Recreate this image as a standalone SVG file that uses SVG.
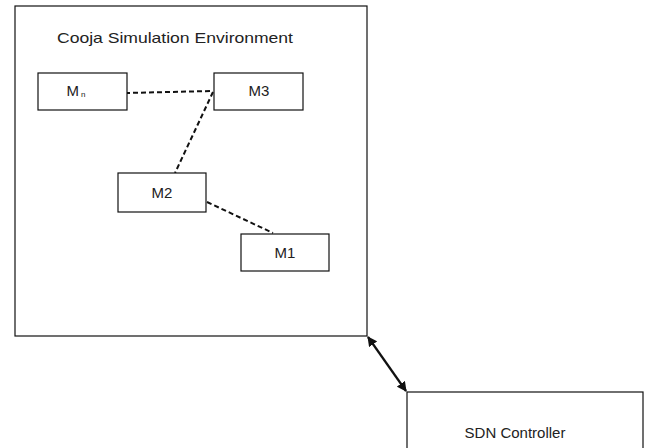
<svg xmlns="http://www.w3.org/2000/svg" width="647" height="448" viewBox="0 0 647 448">
<style>
.box{fill:#fff;stroke:#111;stroke-width:1.2}
.lbl{font-family:"Liberation Sans",Arial,sans-serif;font-size:15px;fill:#222;text-anchor:middle}
.dash{fill:none;stroke:#111;stroke-width:2;stroke-dasharray:5,3}
</style>
<defs>
<marker id="ah" viewBox="0 0 10 10" refX="9" refY="5" markerWidth="4.5" markerHeight="4.5" orient="auto-start-reverse" markerUnits="strokeWidth">
<path d="M0,0 L10,5 L0,10 z" fill="#111"/>
</marker>
</defs>
<rect width="647" height="448" fill="#fff"/>
<g id="env">
<rect class="box" x="15" y="6" width="352" height="330"/>
<text x="57" y="43" font-family="Liberation Sans,Arial,sans-serif" font-size="15" fill="#222" textLength="236" lengthAdjust="spacingAndGlyphs">Cooja Simulation Environment</text>
</g>
<g id="connectors">
<line class="dash" x1="125" y1="93" x2="213" y2="91"/>
<line class="dash" x1="213" y1="92" x2="175" y2="173"/>
<line class="dash" x1="207" y1="202" x2="273" y2="233"/>
<line x1="368" y1="337" x2="406" y2="391" stroke="#111" stroke-width="2.2" marker-start="url(#ah)" marker-end="url(#ah)"/>
</g>
<g id="Mn">
<rect class="box" x="38" y="73" width="89" height="37"/>
<text x="76" y="96" font-family="Liberation Sans,Arial,sans-serif" font-size="15" fill="#222" text-anchor="middle">M<tspan font-size="8" dx="2" dy="1">n</tspan></text>
</g>
<g id="M3">
<rect class="box" x="214" y="73" width="89" height="37"/>
<text class="lbl" x="259" y="96">M3</text>
</g>
<g id="M2">
<rect class="box" x="118" y="173" width="88" height="39"/>
<text class="lbl" x="162" y="198">M2</text>
</g>
<g id="M1">
<rect class="box" x="241" y="234" width="88" height="37"/>
<text class="lbl" x="285" y="258">M1</text>
</g>
<g id="SDN">
<rect class="box" x="407" y="392" width="236" height="70"/>
<text class="lbl" x="515" y="438">SDN Controller</text>
</g>
</svg>
